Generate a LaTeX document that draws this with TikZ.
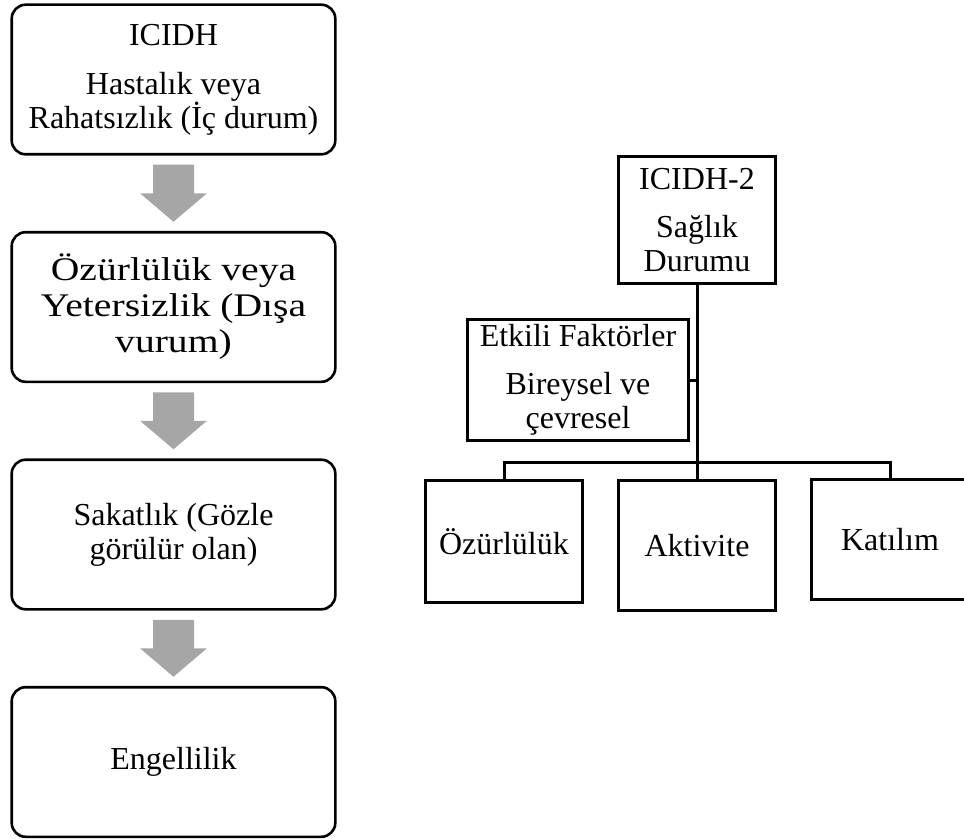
\documentclass[tikz,border=0pt]{standalone}
\usepackage{fontspec}
\setmainfont{Liberation Serif}
\newfontfamily\icfwidefont{Liberation Serif}[FakeStretch=1.2]
\usetikzlibrary{calc,backgrounds}
\definecolor{icfborder}{HTML}{000000}
\definecolor{icftext}{HTML}{000000}
\definecolor{icfarrow}{HTML}{A6A6A6}
\tikzset{
  icf stage/.style={
    rectangle, rounded corners=7pt,
    draw=icfborder, fill=white, text=icftext,
    line width=1.3pt,
    minimum width=161.8pt, minimum height=74.8pt,
    inner sep=0pt, outer sep=0pt,
    font=\fontsize{16}{17}\selectfont, align=center
  },
  icf wide stage/.style={icf stage, font=\fontsize{16.5}{18}\icfwidefont},
  icf box/.style={
    rectangle,
    draw=icfborder, fill=white, text=icftext,
    line width=1.5pt,
    minimum width=78.5pt,
    inner sep=0pt, outer sep=0pt,
    font=\fontsize{16}{17}\selectfont, align=center
  },
  icf line/.style={draw=icfborder, line width=1.5pt},
  icf flow/.style={fill=icfarrow, draw=none}
}

\begin{document}
\begin{tikzpicture}[x=0.5pt,y=-0.5pt]
  \useasboundingbox (0,0) rectangle (964,840);
  \clip (0,0) rectangle (964,840);

  % ICIDH: the older model, read from top to bottom.
  \node[icf stage] (hastalik) at (173.5,79.5) {ICIDH\\[7.5pt]Hastalık veya\\Rahatsızlık (İç durum)};
  \node[icf wide stage] (ozurluluk) at (173.5,307) {Özürlülük veya\\Yetersizlik (Dışa\\vurum)};
  \node[icf stage] (sakatlik) at (173.5,534.5) {Sakatlık (Gözle\\görülür olan)};
  \node[icf stage] (engellilik) at (173.5,762) {Engellilik};

  % Wide grey block arrows between the stages.
  \foreach \from/\to in {hastalik/ozurluluk, ozurluluk/sakatlik, sakatlik/engellilik}
    \fill[icf flow, shift={($(\from.south)!0.5!(\to.north)$)}]
      (-20.5,-28.5) -- (20.5,-28.5) -- (20.5,0) -- (33.5,0)
      -- (0,28.5) -- (-33.5,0) -- (-20.5,0) -- cycle;

  % ICIDH-2: health condition on top, the three components below.
  \node[icf box,minimum height=63.5pt] (saglik) at (697,220) {ICIDH-2\\[7pt]Sağlık\\Durumu};
  \node[icf box,minimum width=110.5pt,minimum height=60.5pt] (etkili) at (578,380) {Etkili Faktörler\\[7pt]Bireysel ve\\çevresel};
  \node[icf box,minimum height=61pt] (ozur) at (504,541.5) {Özürlülük};
  \node[icf box,minimum height=65pt] (aktivite) at (697,545.5) {Aktivite};
  \node[icf box,minimum height=60pt] (katilim) at (890,539.5) {Katılım};

  \coordinate (bus) at (697,462);

  \begin{scope}[on background layer]
    \draw[icf line] (saglik.south) -- (aktivite.north);
    \draw[icf line] (etkili.east) -- (etkili.east -| saglik.south);
    % One bar feeds the three components.
    \draw[icf line] (ozur.north) |- (bus) -| (katilim.north);
  \end{scope}
\end{tikzpicture}
\end{document}
